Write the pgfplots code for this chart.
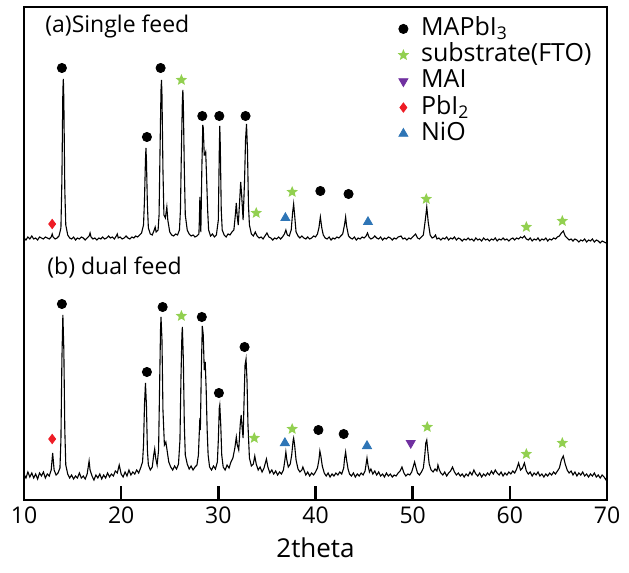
\documentclass[border=0pt]{standalone}
\usepackage{fontspec}
\setmainfont{Open Sans}
\usepackage{pgfplots}
\pgfplotsset{compat=1.18}

\definecolor{mapgreen}{HTML}{92D050}
\definecolor{mapblue}{HTML}{2E75B6}
\definecolor{mappurple}{HTML}{7030A0}
\definecolor{mapred}{HTML}{EE1C25}

% filled five-pointed star
\pgfdeclareplotmark{fstar}{%
  \pgfpathmoveto{\pgfpointpolar{90}{\pgfplotmarksize}}%
  \pgfpathlineto{\pgfpointpolar{126}{0.45\pgfplotmarksize}}%
  \pgfpathlineto{\pgfpointpolar{162}{\pgfplotmarksize}}%
  \pgfpathlineto{\pgfpointpolar{198}{0.45\pgfplotmarksize}}%
  \pgfpathlineto{\pgfpointpolar{234}{\pgfplotmarksize}}%
  \pgfpathlineto{\pgfpointpolar{270}{0.45\pgfplotmarksize}}%
  \pgfpathlineto{\pgfpointpolar{306}{\pgfplotmarksize}}%
  \pgfpathlineto{\pgfpointpolar{342}{0.45\pgfplotmarksize}}%
  \pgfpathlineto{\pgfpointpolar{18}{\pgfplotmarksize}}%
  \pgfpathlineto{\pgfpointpolar{54}{0.45\pgfplotmarksize}}%
  \pgfpathclose\pgfusepathqfill}

\begin{document}
\begin{tikzpicture}
\begin{axis}[
  scale only axis,
  width=291.5pt, height=246.5pt,
  xmin=10, xmax=70, ymin=0, ymax=493,
  xtick={10,20,...,70}, ytick=\empty,
  xtick pos=bottom, tick align=inside,
  major tick length=7pt,
  xtick style={black, line width=1.2pt},
  axis line style={line width=1.2pt},
  /pgf/number format/assume math mode=true,
  tick label style={font=\fontsize{11.5}{13}\selectfont},
  xlabel={2theta},
  xlabel style={font=\fontsize{13}{15}\selectfont},
  clip=false,
  legend cell align=left,
  legend style={at={(0.63,0.991)}, anchor=north west, draw=none, fill=none,
    font=\fontsize{12.5}{14}\selectfont, row sep=0pt, column sep=4pt,
    nodes={text height=9pt, text depth=2.5pt, inner ysep=0.8pt}},
]
% (a) single feed
\addplot[black, line width=0.55pt, forget plot] coordinates {
(10.0,262) (10.2,260) (10.4,263) (10.6,261) (10.8,264) (11.0,261) (11.2,262) (11.4,260) (11.6,263) (11.8,262)
(12.0,261) (12.2,263) (12.4,262) (12.6,261) (12.8,263) (12.9,266) (13.0,263) (13.2,261) (13.4,262) (13.6,264)
(13.8,272) (13.9,320) (14.0,410) (14.05,421) (14.1,400) (14.2,310) (14.3,275) (14.5,265) (14.7,262) (14.9,261)
(15.1,263) (15.3,260) (15.5,262) (15.7,261) (15.9,263) (16.1,262) (16.3,260) (16.5,262) (16.7,264) (16.8,267)
(16.9,263) (17.1,261) (17.3,262) (17.5,260) (17.7,262) (17.9,261) (18.1,263) (18.3,261) (18.5,262) (18.7,264)
(18.9,262) (19.1,263) (19.3,261) (19.5,264) (19.6,266) (19.7,262) (19.9,263) (20.1,261) (20.3,262) (20.5,264)
(20.7,262) (20.9,261) (21.1,263) (21.3,262) (21.5,264) (21.7,263) (21.9,265) (22.1,267) (22.3,275) (22.4,300)
(22.5,340) (22.55,352) (22.6,340) (22.7,295) (22.8,272) (23.0,266) (23.2,265) (23.4,270) (23.5,273) (23.6,268)
(23.8,270) (23.9,285) (24.0,350) (24.1,410) (24.15,420) (24.2,405) (24.3,330) (24.4,285) (24.55,282) (24.7,293)
(24.8,280) (25.0,268) (25.2,265) (25.4,264) (25.6,266) (25.8,265) (26.0,270) (26.1,290) (26.2,350) (26.3,400)
(26.35,410) (26.4,395) (26.5,330) (26.6,285) (26.8,270) (27.0,266) (27.2,264) (27.4,265) (27.6,263) (27.8,264)
(28.0,266) (28.05,280) (28.1,303) (28.15,280) (28.2,268) (28.3,330) (28.4,375) (28.45,372) (28.55,345) (28.6,345)
(28.7,348) (28.8,320) (28.9,290) (29.0,270) (29.2,264) (29.4,266) (29.6,263) (29.8,265) (30.0,280) (30.1,350)
(30.15,374) (30.2,355) (30.3,290) (30.4,270) (30.6,265) (30.8,263) (31.0,266) (31.2,265) (31.4,268) (31.6,270)
(31.75,285) (31.85,297) (31.95,283) (32.05,275) (32.2,300) (32.3,318) (32.4,305) (32.55,280) (32.7,320) (32.8,360)
(32.9,376) (33.0,350) (33.1,295) (33.2,275) (33.4,266) (33.6,264) (33.8,268) (34.0,264) (34.2,262) (34.4,263)
(34.6,261) (34.8,264) (35.0,267) (35.2,263) (35.4,262) (35.6,260) (35.8,262) (36.0,261) (36.2,263) (36.4,261)
(36.6,263) (36.8,266) (36.95,270) (37.1,265) (37.3,264) (37.5,270) (37.65,288) (37.75,296) (37.85,285) (38.0,268)
(38.2,264) (38.4,262) (38.6,264) (38.8,262) (39.0,261) (39.2,263) (39.4,261) (39.6,262) (39.8,264) (40.0,263)
(40.2,266) (40.35,272) (40.5,283) (40.65,272) (40.8,265) (41.0,262) (41.2,261) (41.4,263) (41.6,260) (41.8,262)
(42.0,261) (42.2,263) (42.4,262) (42.6,264) (42.8,266) (43.0,276) (43.1,283) (43.2,274) (43.4,264) (43.6,262)
(43.8,261) (44.0,263) (44.2,260) (44.4,262) (44.6,261) (44.8,263) (45.0,262) (45.2,264) (45.35,267) (45.5,263)
(45.7,261) (45.9,262) (46.1,264) (46.3,262) (46.5,261) (46.7,263) (46.9,260) (47.1,262) (47.3,261) (47.5,263)
(47.7,262) (47.9,260) (48.1,262) (48.3,261) (48.5,263) (48.8,264) (49.0,261) (49.2,262) (49.4,260) (49.6,262)
(49.8,261) (50.0,263) (50.2,265) (50.3,266) (50.5,262) (50.7,261) (50.9,263) (51.1,265) (51.3,280) (51.45,293)
(51.6,278) (51.8,265) (52.0,262) (52.2,263) (52.35,265) (52.5,261) (52.7,262) (52.9,260) (53.1,262) (53.3,261)
(53.5,263) (53.7,260) (53.9,262) (54.1,261) (54.3,263) (54.5,260) (54.7,262) (54.9,261) (55.1,259) (55.3,261)
(55.5,260) (55.7,262) (55.9,260) (56.1,261) (56.3,259) (56.5,262) (56.7,260) (56.9,261) (57.1,259) (57.3,262)
(57.5,260) (57.7,261) (57.9,259) (58.1,261) (58.3,260) (58.5,262) (58.7,259) (58.9,261) (59.1,260) (59.3,262)
(59.5,260) (59.7,261) (59.9,259) (60.1,261) (60.3,262) (60.5,260) (60.7,262) (60.9,261) (61.1,263) (61.3,262)
(61.5,264) (61.7,261) (61.9,260) (62.1,262) (62.3,259) (62.5,261) (62.7,260) (62.9,262) (63.1,259) (63.3,261)
(63.5,260) (63.7,262) (63.9,259) (64.1,261) (64.3,260) (64.5,262) (64.7,261) (64.9,263) (65.1,264) (65.3,267)
(65.5,269) (65.7,264) (65.9,262) (66.1,260) (66.3,261) (66.5,259) (66.7,261) (66.9,260) (67.1,258) (67.3,260)
(67.5,259) (67.7,261) (67.9,258) (68.1,260) (68.3,259) (68.5,261) (68.7,258) (68.9,260) (69.1,259) (69.3,257)
(69.5,259) (69.7,258) (69.9,257) (70.0,258)
};
% (b) dual feed
\addplot[black, line width=0.55pt, forget plot] coordinates {
(10.0,26) (10.2,22) (10.4,28) (10.6,23) (10.8,27) (11.0,22) (11.2,26) (11.4,21) (11.6,27) (11.8,24)
(12.0,28) (12.2,22) (12.4,26) (12.6,24) (12.8,30) (12.95,47) (13.1,30) (13.3,25) (13.5,27) (13.7,32)
(13.8,60) (13.9,140) (14.0,185) (14.1,150) (14.2,70) (14.3,35) (14.5,26) (14.7,22) (14.9,25) (15.1,21)
(15.3,24) (15.5,22) (15.7,27) (15.9,22) (16.1,24) (16.3,21) (16.5,26) (16.7,39) (16.8,30) (17.0,24)
(17.2,20) (17.4,25) (17.6,22) (17.8,26) (18.0,21) (18.2,25) (18.4,22) (18.6,27) (18.8,23) (19.0,26)
(19.2,24) (19.4,29) (19.6,27) (19.8,35) (20.0,26) (20.2,23) (20.4,28) (20.6,24) (20.8,30) (21.0,25)
(21.2,28) (21.4,26) (21.6,30) (21.8,27) (22.0,32) (22.2,38) (22.3,55) (22.4,95) (22.5,117) (22.6,95)
(22.7,50) (22.8,35) (23.0,30) (23.2,33) (23.35,45) (23.45,51) (23.55,42) (23.7,35) (23.85,50) (23.95,110)
(24.05,170) (24.1,183) (24.2,160) (24.3,90) (24.45,55) (24.6,58) (24.75,48) (24.9,38) (25.1,33) (25.3,30)
(25.5,34) (25.7,31) (25.9,36) (26.05,60) (26.15,120) (26.25,165) (26.3,173) (26.4,140) (26.5,75) (26.6,45)
(26.8,36) (27.0,31) (27.2,34) (27.4,30) (27.6,33) (27.8,35) (27.95,45) (28.05,70) (28.1,82) (28.15,70)
(28.25,130) (28.35,174) (28.45,165) (28.55,130) (28.65,138) (28.75,110) (28.85,70) (28.95,45) (29.1,33) (29.3,30)
(29.5,34) (29.7,31) (29.9,38) (30.0,60) (30.1,92) (30.15,95) (30.25,75) (30.35,45) (30.5,33) (30.7,30)
(30.9,35) (31.1,32) (31.3,38) (31.5,42) (31.7,52) (31.85,63) (31.95,55) (32.1,50) (32.25,75) (32.35,85)
(32.45,72) (32.55,62) (32.65,100) (32.75,135) (32.85,141) (32.95,120) (33.05,75) (33.2,42) (33.4,34) (33.6,36)
(33.75,44) (33.9,36) (34.1,30) (34.3,33) (34.5,28) (34.7,32) (34.95,41) (35.1,33) (35.3,27) (35.5,30)
(35.7,26) (35.9,29) (36.1,25) (36.3,28) (36.5,26) (36.7,30) (36.85,40) (36.95,48) (37.05,40) (37.2,33)
(37.4,36) (37.55,45) (37.7,60) (37.75,62) (37.85,55) (38.0,40) (38.2,31) (38.4,28) (38.6,30) (38.7,33)
(38.85,29) (39.0,25) (39.2,28) (39.4,24) (39.6,27) (39.8,25) (40.0,28) (40.2,32) (40.35,40) (40.45,49)
(40.55,44) (40.7,34) (40.9,27) (41.1,24) (41.3,27) (41.5,23) (41.7,26) (41.9,24) (42.1,27) (42.3,25)
(42.5,28) (42.7,26) (42.9,32) (43.0,42) (43.1,48) (43.2,40) (43.35,31) (43.5,26) (43.7,24) (43.9,27)
(44.1,23) (44.3,26) (44.5,24) (44.7,27) (44.9,25) (45.1,29) (45.3,42) (45.4,35) (45.55,28) (45.7,31)
(45.9,26) (46.1,29) (46.3,25) (46.5,28) (46.7,24) (46.9,26) (47.1,23) (47.3,27) (47.5,24) (47.7,26)
(47.9,23) (48.1,25) (48.3,24) (48.5,27) (48.7,29) (48.9,33) (49.1,27) (49.3,24) (49.5,26) (49.7,25)
(49.9,28) (50.05,33) (50.2,38) (50.35,32) (50.5,27) (50.7,25) (50.9,28) (51.1,32) (51.25,45) (51.35,57)
(51.45,60) (51.55,50) (51.7,36) (51.9,30) (52.1,28) (52.3,31) (52.5,29) (52.6,35) (52.75,30) (52.9,27)
(53.1,25) (53.3,28) (53.5,24) (53.7,27) (53.9,29) (54.1,33) (54.3,28) (54.5,25) (54.7,27) (54.9,24)
(55.1,26) (55.3,23) (55.5,26) (55.7,24) (55.9,28) (56.1,25) (56.3,30) (56.5,26) (56.7,24) (56.9,27)
(57.1,23) (57.3,26) (57.5,24) (57.7,27) (57.9,25) (58.1,29) (58.3,26) (58.5,30) (58.7,27) (58.9,25)
(59.1,28) (59.3,24) (59.5,27) (59.7,25) (59.9,28) (60.1,26) (60.3,29) (60.5,27) (60.7,31) (60.9,37)
(61.1,30) (61.3,32) (61.5,37) (61.7,29) (61.9,26) (62.1,28) (62.3,24) (62.5,27) (62.7,25) (62.9,28)
(63.1,24) (63.3,26) (63.5,23) (63.7,26) (63.9,24) (64.1,27) (64.3,25) (64.5,28) (64.7,26) (64.9,29)
(65.1,32) (65.3,40) (65.5,44) (65.7,36) (65.9,30) (66.1,27) (66.3,29) (66.5,25) (66.7,28) (66.9,24)
(67.1,27) (67.3,25) (67.5,28) (67.7,24) (67.9,26) (68.1,23) (68.3,26) (68.5,24) (68.7,27) (68.9,23)
(69.1,25) (69.3,22) (69.5,25) (69.7,23) (69.9,20) (70.0,24)
};

% phase markers
\addplot[only marks, mark=*, mark size=2.3pt, black] coordinates {
(13.9,432) (22.65,363) (24.06,432) (28.35,384) (30.1,384) (32.8,384) (40.5,309) (43.4,306)
(13.9,196) (22.65,128) (24.27,193) (28.3,183) (30.06,107) (32.7,153) (40.3,70) (42.9,66)
};
\addlegendentry{MAPbI\textsubscript{3}}
\addplot[only marks, mark=fstar, mark size=3pt, mapgreen] coordinates {
(26.2,420) (33.9,287) (37.6,308) (51.4,301) (61.7,273) (65.4,279)
(26.2,184) (33.7,62) (37.6,71) (51.5,73) (61.7,46) (65.4,57)
};
\addlegendentry{substrate(FTO)}
\addplot[only marks, mark=triangle*, mark size=2.6pt, mappurple, mark options={rotate=180}] coordinates {
(49.8,57)
};
\addlegendentry{MAI}
\addplot[only marks, mark=diamond*, mark size=2.3pt, mapred] coordinates {
(12.9,276) (12.9,61)
};
\addlegendentry{PbI\textsubscript{2}}
\addplot[only marks, mark=triangle*, mark size=2.6pt, mapblue] coordinates {
(36.9,282) (45.4,278) (36.85,57) (45.3,54)
};
\addlegendentry{NiO}

\node[anchor=base west, inner sep=0pt, font=\fontsize{11.5}{13}\selectfont] at (axis cs:12.16,467) {(a)Single feed};
\node[anchor=base west, inner sep=0pt, font=\fontsize{11.5}{13}\selectfont] at (axis cs:12.37,225) {(b) dual feed};
\end{axis}
\path ([shift={(-12pt,-36pt)}]current axis.south west) rectangle ([shift={(11pt,3.5pt)}]current axis.north east);
\end{tikzpicture}
\end{document}
